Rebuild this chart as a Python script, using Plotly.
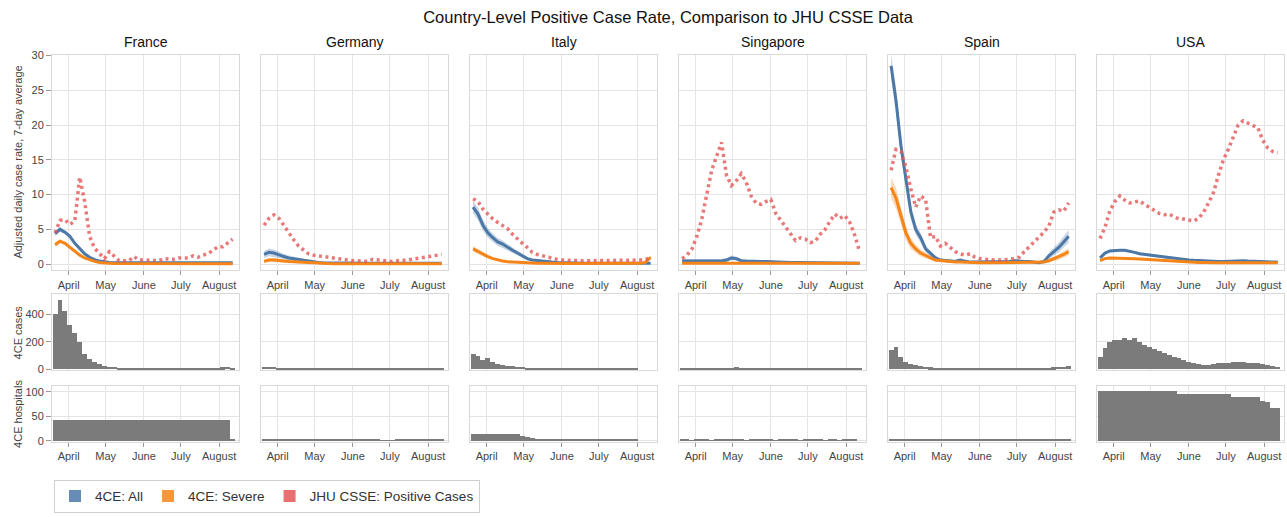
import plotly.graph_objects as go

# ---------------- data ----------------
DATES = [
    "2020-03-21", "2020-03-25", "2020-03-29", "2020-04-02", "2020-04-06",
    "2020-04-10", "2020-04-14", "2020-04-18", "2020-04-22", "2020-04-26",
    "2020-04-30", "2020-05-04", "2020-05-08", "2020-05-12", "2020-05-16",
    "2020-05-20", "2020-05-24", "2020-05-28", "2020-06-01", "2020-06-05",
    "2020-06-09", "2020-06-13", "2020-06-17", "2020-06-21", "2020-06-25",
    "2020-06-29", "2020-07-03", "2020-07-07", "2020-07-11", "2020-07-15",
    "2020-07-19", "2020-07-23", "2020-07-27", "2020-07-31", "2020-08-04",
    "2020-08-08", "2020-08-12"]

MONTH_TICKS = ["2020-04-01", "2020-05-01", "2020-06-01", "2020-07-01", "2020-08-01"]
MONTH_LABELS = ["April", "May", "June", "July", "August"]
COUNTRIES = ["France", "Germany", "Italy", "Singapore", "Spain", "USA"]
SERIES_NAMES = ["4CE: All", "4CE: Severe", "JHU CSSE: Positive Cases"]

# France
FR_ALL = [4.4, 5.0, 4.6, 4.0, 3.0, 2.2, 1.5, 1.0, 0.65, 0.45,
          0.3, 0.25, 0.2, 0.2, 0.18, 0.15, 0.15, 0.15, 0.15, 0.15,
          0.15, 0.15, 0.15, 0.15, 0.15, 0.15, 0.15, 0.15, 0.15, 0.15,
          0.15, 0.15, 0.15, 0.18, 0.18, 0.2, 0.2]
FR_ALL_ERR = [0.4, 0.35, 0.3, 0.25, 0.2, 0.15, 0.12, 0.1, 0.08, 0.06,
              0.05, 0.05, 0.05, 0.05, 0.05, 0.05, 0.05, 0.05, 0.05, 0.05,
              0.05, 0.05, 0.05, 0.05, 0.05, 0.05, 0.05, 0.05, 0.05, 0.05,
              0.05, 0.05, 0.05, 0.05, 0.06, 0.06, 0.06]
FR_SEV = [2.8, 3.3, 3.0, 2.4, 1.8, 1.3, 0.9, 0.6, 0.4, 0.25,
          0.15, 0.12, 0.1, 0.1, 0.08, 0.08, 0.08, 0.08, 0.08, 0.08,
          0.08, 0.08, 0.08, 0.08, 0.08, 0.08, 0.08, 0.08, 0.08, 0.08,
          0.08, 0.08, 0.08, 0.08, 0.08, 0.08, 0.08]
FR_SEV_ERR = [0.3, 0.25, 0.2, 0.18, 0.15, 0.12, 0.1, 0.08, 0.06, 0.05,
              0.04, 0.04, 0.04, 0.04, 0.04, 0.04, 0.04, 0.04, 0.04, 0.04,
              0.04, 0.04, 0.04, 0.04, 0.04, 0.04, 0.04, 0.04, 0.04, 0.04,
              0.04, 0.04, 0.04, 0.04, 0.04, 0.04, 0.04]
FR_JHU = [4.5, 6.3, 6.4, 5.7, 6.2, 12.5, 9.0, 4.0, 2.3, 1.5,
          0.8, 1.8, 1.2, 0.5, 0.5, 0.5, 1.1, 0.6, 0.6, 0.6,
          0.5, 0.5, 0.8, 0.7, 0.7, 0.9, 0.9, 0.9, 1.2, 1.0,
          1.3, 1.5, 2.0, 2.5, 2.5, 3.0, 3.6]
FR_CASES = [400, 500, 420, 320, 260, 200, 110, 75, 50, 35,
            25, 18, 15, 12, 10, 9, 8, 8, 7, 7,
            6, 6, 6, 6, 6, 6, 6, 7, 7, 7,
            8, 9, 10, 12, 14, 15, 5]
FR_HOSP = [42, 42, 42, 42, 42, 42, 42, 42, 42, 42,
           42, 42, 42, 42, 42, 42, 42, 42, 42, 42,
           42, 42, 42, 42, 42, 42, 42, 42, 42, 42,
           42, 42, 42, 42, 42, 42, 3]

# Germany
DE_ALL = [1.4, 1.7, 1.6, 1.3, 1.1, 0.9, 0.8, 0.6, 0.5, 0.4,
          0.3, 0.25, 0.22, 0.2, 0.18, 0.15, 0.15, 0.15, 0.12, 0.12,
          0.12, 0.12, 0.12, 0.12, 0.12, 0.12, 0.12, 0.12, 0.12, 0.12,
          0.12, 0.12, 0.12, 0.12, 0.12, 0.12, 0.12]
DE_ALL_ERR = [0.5, 0.55, 0.5, 0.45, 0.4, 0.35, 0.3, 0.25, 0.2, 0.18,
              0.15, 0.12, 0.1, 0.1, 0.08, 0.07, 0.06, 0.06, 0.06, 0.06,
              0.06, 0.06, 0.06, 0.06, 0.06, 0.06, 0.06, 0.06, 0.06, 0.06,
              0.06, 0.06, 0.06, 0.06, 0.06, 0.06, 0.06]
DE_SEV = [0.4, 0.6, 0.6, 0.5, 0.45, 0.4, 0.35, 0.3, 0.25, 0.2,
          0.15, 0.12, 0.1, 0.1, 0.08, 0.08, 0.08, 0.08, 0.08, 0.08,
          0.08, 0.08, 0.08, 0.08, 0.08, 0.08, 0.08, 0.08, 0.08, 0.08,
          0.08, 0.08, 0.08, 0.08, 0.08, 0.08, 0.08]
DE_SEV_ERR = [0.25, 0.3, 0.3, 0.25, 0.22, 0.2, 0.18, 0.15, 0.12, 0.1,
              0.08, 0.06, 0.05, 0.05, 0.05, 0.05, 0.05, 0.05, 0.05, 0.05,
              0.05, 0.05, 0.05, 0.05, 0.05, 0.05, 0.05, 0.05, 0.05, 0.05,
              0.05, 0.05, 0.05, 0.05, 0.05, 0.05, 0.05]
DE_JHU = [5.6, 6.6, 7.1, 6.6, 5.6, 4.5, 3.5, 2.6, 2.0, 1.5,
          1.3, 1.2, 1.1, 0.9, 0.8, 0.7, 0.6, 0.6, 0.5, 0.5,
          0.5, 0.4, 0.7, 0.6, 0.5, 0.5, 0.4, 0.5, 0.5, 0.6,
          0.7, 0.8, 0.9, 1.0, 1.1, 1.3, 1.4]
DE_CASES = [18, 17, 15, 12, 10, 8, 7, 6, 5, 5,
            4, 4, 4, 3, 3, 3, 3, 2, 3, 3,
            2, 3, 3, 2, 3, 3, 3, 2, 3, 3,
            3, 2, 3, 3, 3, 2, 3]
DE_HOSP = [4, 4, 4, 4, 4, 4, 4, 4, 4, 4,
           4, 4, 4, 4, 4, 4, 4, 4, 4, 4,
           4, 4, 4, 4, 1, 1, 1, 4.5, 4.5, 4.5,
           4.5, 4.5, 2, 2, 2, 2, 2]

# Italy
IT_ALL = [8.2, 7.2, 5.6, 4.5, 3.8, 3.2, 2.9, 2.4, 2.0, 1.6,
          1.2, 0.8, 0.6, 0.5, 0.4, 0.35, 0.3, 0.25, 0.22, 0.2,
          0.2, 0.18, 0.18, 0.15, 0.15, 0.15, 0.15, 0.15, 0.15, 0.15,
          0.15, 0.15, 0.15, 0.15, 0.15, 0.15, 0.15]
IT_ALL_ERR = [0.9, 0.9, 0.8, 0.7, 0.6, 0.55, 0.5, 0.45, 0.4, 0.35,
              0.3, 0.25, 0.2, 0.15, 0.12, 0.1, 0.08, 0.07, 0.06, 0.06,
              0.06, 0.06, 0.06, 0.06, 0.06, 0.06, 0.06, 0.06, 0.06, 0.06,
              0.06, 0.06, 0.06, 0.06, 0.06, 0.06, 0.06]
IT_SEV = [2.2, 1.8, 1.4, 1.1, 0.8, 0.6, 0.45, 0.35, 0.3, 0.3,
          0.25, 0.2, 0.2, 0.15, 0.15, 0.12, 0.12, 0.1, 0.1, 0.1,
          0.1, 0.1, 0.1, 0.1, 0.1, 0.1, 0.1, 0.1, 0.1, 0.1,
          0.1, 0.1, 0.1, 0.1, 0.12, 0.3, 1.0]
IT_SEV_ERR = [0.4, 0.35, 0.3, 0.25, 0.2, 0.15, 0.12, 0.1, 0.1, 0.08,
              0.06, 0.05, 0.05, 0.05, 0.05, 0.05, 0.05, 0.05, 0.05, 0.05,
              0.05, 0.05, 0.05, 0.05, 0.05, 0.05, 0.05, 0.05, 0.05, 0.05,
              0.05, 0.05, 0.05, 0.05, 0.05, 0.15, 0.3]
IT_JHU = [9.4, 9.0, 7.9, 7.2, 6.5, 6.0, 5.5, 5.1, 4.3, 3.6,
          3.0, 2.4, 1.7, 1.4, 1.2, 1.0, 0.8, 0.7, 0.6, 0.55,
          0.5, 0.5, 0.5, 0.5, 0.5, 0.5, 0.5, 0.5, 0.5, 0.5,
          0.5, 0.5, 0.55, 0.6, 0.6, 0.7, 0.9]
IT_CASES = [110, 95, 70, 80, 50, 38, 32, 26, 22, 18,
            16, 12, 8, 6, 5, 4, 3, 3, 3, 3,
            3, 3, 3, 2, 2, 2, 2, 3, 2, 2,
            2, 2, 2, 2, 0, 0, 0]
IT_HOSP = [14, 14, 14, 14, 14, 14, 14, 14, 14, 14,
           10, 7, 6, 4, 4, 2, 2, 2, 2, 2,
           2, 2, 2, 2, 2, 2, 2, 2, 2, 2,
           2, 2, 2, 2, 0, 0, 0]

# Singapore
SG_ALL = [0.45, 0.5, 0.45, 0.45, 0.5, 0.45, 0.45, 0.45, 0.45, 0.6,
          0.9, 0.8, 0.5, 0.45, 0.4, 0.4, 0.4, 0.4, 0.35, 0.3,
          0.3, 0.3, 0.25, 0.25, 0.25, 0.2, 0.2, 0.2, 0.2, 0.2,
          0.15, 0.15, 0.15, 0.15, 0.15, 0.15, 0.15]
SG_ALL_ERR = [0.3, 0.3, 0.3, 0.3, 0.3, 0.3, 0.3, 0.3, 0.3, 0.3,
              0.35, 0.3, 0.25, 0.2, 0.2, 0.2, 0.2, 0.2, 0.15, 0.15,
              0.15, 0.15, 0.15, 0.15, 0.15, 0.15, 0.15, 0.15, 0.15, 0.15,
              0.1, 0.1, 0.1, 0.1, 0.1, 0.1, 0.1]
SG_SEV = [0.12, 0.12, 0.12, 0.12, 0.12, 0.12, 0.12, 0.12, 0.12, 0.12,
          0.12, 0.12, 0.12, 0.12, 0.12, 0.12, 0.12, 0.12, 0.12, 0.12,
          0.12, 0.12, 0.12, 0.12, 0.12, 0.12, 0.12, 0.12, 0.12, 0.12,
          0.12, 0.12, 0.12, 0.12, 0.12, 0.12, 0.12]
SG_SEV_ERR = [0.08, 0.08, 0.08, 0.08, 0.08, 0.08, 0.08, 0.08, 0.08, 0.08,
              0.08, 0.08, 0.08, 0.08, 0.08, 0.08, 0.08, 0.08, 0.08, 0.08,
              0.08, 0.08, 0.08, 0.08, 0.08, 0.08, 0.08, 0.08, 0.08, 0.08,
              0.08, 0.08, 0.08, 0.08, 0.08, 0.08, 0.08]
SG_JHU = [0.8, 1.3, 2.2, 4.0, 6.5, 10.0, 13.5, 15.5, 17.5, 12.8,
          11.3, 12.0, 13.0, 11.8, 9.8, 8.8, 8.6, 9.0, 9.3, 7.3,
          6.3, 5.3, 4.2, 3.4, 3.8, 3.6, 3.1, 3.3, 4.3, 5.0,
          6.2, 7.2, 6.6, 7.0, 6.0, 4.2, 1.8]
SG_CASES = [4, 5, 6, 6, 7, 8, 8, 9, 10, 10,
            12, 14, 12, 10, 9, 8, 8, 7, 7, 6,
            6, 6, 5, 5, 5, 5, 5, 5, 5, 4,
            4, 4, 4, 4, 3, 3, 3]
SG_HOSP = [2, 2, 1, 2, 2, 2, 1, 2, 2, 2,
           2, 2, 2, 1, 2, 2, 2, 2, 2, 1,
           2, 2, 2, 2, 1, 2, 2, 2, 2, 1,
           2, 2, 1, 2, 2, 2, 0]

# Spain
ES_ALL = [28.5, 23.5, 17.0, 12.0, 7.5, 5.0, 3.8, 2.2, 1.5, 0.9,
          0.6, 0.5, 0.5, 0.4, 0.6, 0.4, 0.3, 0.3, 0.3, 0.3,
          0.3, 0.3, 0.3, 0.3, 0.4, 0.5, 0.4, 0.4, 0.4, 0.3,
          0.2, 0.4, 1.2, 1.8, 2.4, 3.2, 4.0]
ES_ALL_ERR = [1.8, 1.8, 1.5, 1.3, 1.0, 0.8, 0.7, 0.5, 0.4, 0.3,
              0.25, 0.2, 0.2, 0.2, 0.2, 0.15, 0.15, 0.15, 0.15, 0.15,
              0.15, 0.15, 0.15, 0.15, 0.15, 0.15, 0.15, 0.15, 0.15, 0.15,
              0.15, 0.2, 0.4, 0.6, 0.7, 0.8, 0.9]
ES_SEV = [11.0, 9.5, 7.0, 4.5, 3.0, 2.2, 1.6, 1.2, 0.9, 0.6,
          0.5, 0.4, 0.35, 0.3, 0.3, 0.25, 0.2, 0.2, 0.2, 0.2,
          0.2, 0.2, 0.2, 0.2, 0.2, 0.2, 0.2, 0.2, 0.2, 0.2,
          0.2, 0.3, 0.5, 0.8, 1.0, 1.4, 1.8]
ES_SEV_ERR = [1.5, 1.5, 1.2, 1.0, 0.8, 0.6, 0.5, 0.4, 0.3, 0.25,
              0.2, 0.15, 0.12, 0.1, 0.1, 0.1, 0.1, 0.1, 0.1, 0.1,
              0.1, 0.1, 0.1, 0.1, 0.1, 0.1, 0.1, 0.1, 0.1, 0.1,
              0.1, 0.15, 0.25, 0.35, 0.4, 0.5, 0.5]
ES_JHU = [13.5, 16.5, 16.2, 14.0, 10.8, 8.2, 9.8, 9.3, 3.8, 4.0,
          2.6, 3.0, 2.4, 1.8, 1.5, 1.3, 1.5, 1.0, 0.8, 0.7,
          0.7, 0.6, 0.6, 0.6, 0.7, 0.8, 1.0, 1.8, 2.5, 3.2,
          4.0, 4.6, 5.5, 7.5, 7.8, 7.6, 8.8]
ES_CASES = [140, 160, 90, 55, 35, 30, 22, 18, 14, 12,
            10, 8, 8, 7, 7, 6, 6, 6, 6, 6,
            6, 6, 6, 6, 6, 6, 6, 6, 6, 6,
            6, 8, 10, 14, 16, 18, 22]
ES_HOSP = [2, 2, 2, 2, 2, 2, 2, 2, 2, 2,
           2, 2, 2, 2, 2, 2, 2, 2, 2, 2,
           2, 2, 2, 2, 2, 2, 2, 2, 2, 2,
           2, 2, 2, 2, 2, 2, 2]

# USA
US_ALL = [0.9, 1.6, 1.9, 2.0, 2.0, 2.0, 1.9, 1.7, 1.5, 1.4,
          1.3, 1.2, 1.1, 1.0, 0.9, 0.85, 0.8, 0.7, 0.6, 0.55,
          0.5, 0.45, 0.4, 0.4, 0.4, 0.4, 0.45, 0.5, 0.5, 0.5,
          0.45, 0.4, 0.4, 0.35, 0.3, 0.3, 0.3]
US_ALL_ERR = [0.2, 0.2, 0.2, 0.2, 0.2, 0.2, 0.2, 0.2, 0.2, 0.2,
              0.15, 0.15, 0.15, 0.15, 0.15, 0.15, 0.15, 0.15, 0.15, 0.15,
              0.1, 0.1, 0.1, 0.1, 0.1, 0.1, 0.1, 0.1, 0.1, 0.1,
              0.1, 0.1, 0.1, 0.1, 0.1, 0.1, 0.1]
US_SEV = [0.5, 0.8, 0.9, 0.9, 0.9, 0.9, 0.85, 0.8, 0.75, 0.7,
          0.65, 0.6, 0.55, 0.5, 0.45, 0.4, 0.4, 0.35, 0.3, 0.3,
          0.25, 0.25, 0.2, 0.2, 0.2, 0.2, 0.2, 0.2, 0.2, 0.2,
          0.2, 0.2, 0.2, 0.2, 0.2, 0.2, 0.2]
US_SEV_ERR = [0.1, 0.1, 0.1, 0.1, 0.1, 0.1, 0.1, 0.1, 0.1, 0.1,
              0.1, 0.1, 0.1, 0.1, 0.1, 0.1, 0.1, 0.1, 0.1, 0.1,
              0.1, 0.1, 0.1, 0.1, 0.1, 0.1, 0.1, 0.1, 0.1, 0.1,
              0.1, 0.1, 0.1, 0.1, 0.1, 0.1, 0.1]
US_JHU = [3.7, 5.3, 7.7, 9.0, 9.8, 9.2, 8.8, 9.0, 9.1, 8.6,
          8.2, 7.8, 7.3, 7.1, 7.2, 6.8, 6.5, 6.5, 6.3, 6.2,
          6.6, 7.5, 8.8, 10.3, 12.8, 15.0, 16.5, 18.4, 20.0, 20.6,
          20.3, 20.0, 19.6, 17.8, 16.7, 16.2, 16.0]
US_CASES = [90, 155, 195, 215, 210, 225, 215, 230, 200, 175,
            160, 150, 135, 115, 100, 90, 80, 65, 50, 42,
            36, 32, 34, 38, 45, 48, 48, 50, 54, 50,
            45, 46, 44, 40, 30, 22, 15]
US_HOSP = [101, 101, 101, 101, 101, 101, 101, 101, 101, 101,
           101, 101, 101, 101, 101, 101, 95, 95, 95, 95,
           95, 95, 95, 95, 95, 95, 95, 90, 90, 90,
           90, 90, 90, 82, 79, 68, 68]

TABLE = {
    "France": (FR_ALL, FR_ALL_ERR, FR_SEV, FR_SEV_ERR, FR_JHU, FR_CASES, FR_HOSP),
    "Germany": (DE_ALL, DE_ALL_ERR, DE_SEV, DE_SEV_ERR, DE_JHU, DE_CASES, DE_HOSP),
    "Italy": (IT_ALL, IT_ALL_ERR, IT_SEV, IT_SEV_ERR, IT_JHU, IT_CASES, IT_HOSP),
    "Singapore": (SG_ALL, SG_ALL_ERR, SG_SEV, SG_SEV_ERR, SG_JHU, SG_CASES, SG_HOSP),
    "Spain": (ES_ALL, ES_ALL_ERR, ES_SEV, ES_SEV_ERR, ES_JHU, ES_CASES, ES_HOSP),
    "USA": (US_ALL, US_ALL_ERR, US_SEV, US_SEV_ERR, US_JHU, US_CASES, US_HOSP),
}
for k, v in TABLE.items():
    for arr in v:
        assert len(arr) == len(DATES), (k, len(arr))

# ---------------- style / layout ----------------
W, H = 1287, 517
COL_LEFT = [52, 261, 470, 679, 888, 1097]
COL_W = 187
ROWS = [(50.7, 270.7), (295.0, 372.7), (388.3, 445.7)]
Y_RANGES = [[-0.9, 30.1], [-7, 546], [-2.8, 112]]
Y_TICKS = [[0, 5, 10, 15, 20, 25, 30], [0, 200, 400], [0, 50, 100]]
Y_TITLES = ["Adjusted daily case rate, 7-day average", "4CE cases", "4CE hospitals"]
X_RANGE = ["2020-03-18 12:00", "2020-08-17 04:00"]

BLUE = "#4c78a8"
ORANGE = "#f58518"
RED = "#e45756"
BLUE_BAND = "rgba(76,120,168,0.30)"
ORANGE_BAND = "rgba(245,133,24,0.30)"
RED_DOT = "rgba(228,87,86,0.80)"
BAR = "#7b7b7b"
GRID = "#e4e4e4"
FRAME = "#d9d9d9"
FONT = "Liberation Sans, Arial, sans-serif"
DAY_MS = 86400000

fig = go.Figure()


def ax_names(r, c):
    n = r * 6 + c + 1
    s = "" if n == 1 else str(n)
    return "x" + s, "y" + s, "xaxis" + s, "yaxis" + s


def band(x, mid, err):
    hi = [m + e for m, e in zip(mid, err)]
    lo = [max(m - e, 0) for m, e in zip(mid, err)]
    return list(x) + list(x)[::-1], hi + lo[::-1]


for c, country in enumerate(COUNTRIES):
    all_v, all_e, sev_v, sev_e, jhu, cases, hosp = TABLE[country]
    xr, yr, _, _ = ax_names(0, c)
    bx, by = band(DATES, all_v, all_e)
    fig.add_trace(go.Scatter(x=bx, y=by, xaxis=xr, yaxis=yr, fill="toself",
                             fillcolor=BLUE_BAND, line=dict(width=0),
                             mode="lines", hoverinfo="skip", showlegend=False))
    bx, by = band(DATES, sev_v, sev_e)
    fig.add_trace(go.Scatter(x=bx, y=by, xaxis=xr, yaxis=yr, fill="toself",
                             fillcolor=ORANGE_BAND, line=dict(width=0),
                             mode="lines", hoverinfo="skip", showlegend=False))
    fig.add_trace(go.Scatter(x=DATES, y=all_v, xaxis=xr, yaxis=yr, mode="lines",
                             line=dict(color=BLUE, width=3), name=SERIES_NAMES[0],
                             showlegend=False))
    fig.add_trace(go.Scatter(x=DATES, y=sev_v, xaxis=xr, yaxis=yr, mode="lines",
                             line=dict(color=ORANGE, width=3), name=SERIES_NAMES[1],
                             showlegend=False))
    fig.add_trace(go.Scatter(x=DATES, y=jhu, xaxis=xr, yaxis=yr, mode="lines",
                             line=dict(color=RED_DOT, width=3.5, dash="3px,3.5px"),
                             name=SERIES_NAMES[2], showlegend=False))
    xr, yr, _, _ = ax_names(1, c)
    fig.add_trace(go.Bar(x=DATES, y=cases, xaxis=xr, yaxis=yr, width=4 * DAY_MS,
                         marker=dict(color=BAR, line=dict(width=0)),
                         name="4CE cases", showlegend=False))
    xr, yr, _, _ = ax_names(2, c)
    fig.add_trace(go.Bar(x=DATES, y=hosp, xaxis=xr, yaxis=yr, width=4 * DAY_MS,
                         marker=dict(color=BAR, line=dict(width=0)),
                         name="4CE hospitals", showlegend=False))

# legend entries
for name, col in zip(SERIES_NAMES, [BLUE, ORANGE, RED]):
    fig.add_trace(go.Scatter(x=[None], y=[None], mode="markers", name=name,
                             marker=dict(symbol="square", size=9, color=col,
                                         opacity=0.85),
                             xaxis="x", yaxis="y", showlegend=True))

layout = dict(
    width=W, height=H, margin=dict(l=0, r=0, t=0, b=0, pad=0),
    paper_bgcolor="white", plot_bgcolor="white",
    font=dict(family=FONT, color="#333", size=11),
    showlegend=True, bargap=0,
    title=dict(text="Country-Level Positive Case Rate, Comparison to JHU CSSE Data",
               x=668 / W, y=1 - 17 / H, xanchor="center", yanchor="middle",
               font=dict(size=16.5, color="#111", family=FONT)),
    legend=dict(orientation="h", x=54 / W, y=1 - 484 / H, xanchor="left",
                yanchor="top", bordercolor="#d0d0d0", borderwidth=1,
                bgcolor="white", font=dict(size=13.5, color="#333"),
                itemsizing="constant"),
)

for r in range(3):
    for c in range(6):
        xr, yr, xk, yk = ax_names(r, c)
        x0 = COL_LEFT[c] / W
        x1 = (COL_LEFT[c] + COL_W) / W
        y0 = 1 - ROWS[r][1] / H
        y1 = 1 - ROWS[r][0] / H
        layout[xk] = dict(domain=[x0, x1], anchor=yr, type="date", range=X_RANGE,
                          tickmode="array", tickvals=MONTH_TICKS, ticktext=MONTH_LABELS,
                          showgrid=True, gridcolor=GRID, gridwidth=1,
                          showline=True, linecolor=FRAME, linewidth=1, mirror=True,
                          zeroline=False,
                          ticks="outside" if r != 1 else "", ticklen=4,
                          tickcolor="#999", showticklabels=(r != 1),
                          tickfont=dict(size=11, color="#444"), fixedrange=True)
        layout[yk] = dict(domain=[y0, y1], anchor=xr, range=Y_RANGES[r],
                          tickmode="array", tickvals=Y_TICKS[r],
                          showgrid=True, gridcolor=GRID, gridwidth=1,
                          showline=True, linecolor=FRAME, linewidth=1, mirror=True,
                          zeroline=False,
                          ticks="outside" if c == 0 else "", ticklen=5,
                          tickcolor="#999", showticklabels=(c == 0),
                          tickfont=dict(size=11, color="#444"), fixedrange=True)

annotations = []
for c, country in enumerate(COUNTRIES):
    annotations.append(dict(text=country, xref="paper", yref="paper",
                            x=(COL_LEFT[c] + COL_W / 2) / W, y=1 - 38 / H,
                            xanchor="center", yanchor="middle", showarrow=False,
                            font=dict(size=14, color="#111", family=FONT)))
for r, t in enumerate(Y_TITLES):
    annotations.append(dict(text=t, xref="paper", yref="paper", x=18 / W,
                            y=1 - (ROWS[r][0] + ROWS[r][1]) / 2 / H,
                            xanchor="center", yanchor="middle", textangle=-90,
                            showarrow=False,
                            font=dict(size=11, color="#444", family=FONT)))
layout["annotations"] = annotations

fig.update_layout(**layout)
fig.write_html("out.html",
               config={"displayModeBar": False},
               post_script="document.body.style.margin='0px';"
                           "document.body.style.overflow='hidden';")
